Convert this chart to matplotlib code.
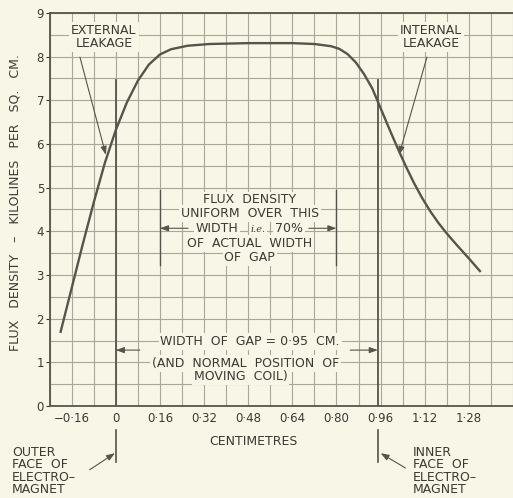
import matplotlib
matplotlib.use("Agg")
import matplotlib.pyplot as plt

# Flux density across the air gap of a moving-coil loudspeaker magnet
position_cm = [-0.20, -0.16, -0.12, -0.08, -0.04, 0.00, 0.04, 0.08, 0.12, 0.16,
               0.20, 0.26, 0.34, 0.48, 0.64, 0.72, 0.78, 0.81, 0.84, 0.87,
               0.90, 0.93, 0.96, 0.99, 1.02, 1.05, 1.08, 1.11, 1.14, 1.17,
               1.20, 1.24, 1.28, 1.32]
flux_kilolines = [1.70, 2.70, 3.70, 4.66, 5.56, 6.32, 6.95, 7.45, 7.82, 8.05,
                  8.17, 8.25, 8.29, 8.31, 8.31, 8.29, 8.24, 8.18, 8.06, 7.87,
                  7.60, 7.27, 6.82, 6.37, 5.93, 5.51, 5.12, 4.77, 4.46, 4.19,
                  3.95, 3.66, 3.38, 3.09]

x_ticks = [-0.16, 0.0, 0.16, 0.32, 0.48, 0.64, 0.80, 0.96, 1.12, 1.28]
x_tick_labels = ["\u22120\u00b716", "0", "0\u00b716", "0\u00b732", "0\u00b748",
                 "0\u00b764", "0\u00b780", "0\u00b796", "1\u00b712", "1\u00b728"]
y_ticks = [0, 1, 2, 3, 4, 5, 6, 7, 8, 9]

gap_width = 0.95            # outer face at 0, inner face at 0.95 cm
uniform_span = (0.16, 0.80)  # region of uniform flux density

BG = "#f8f6e7"
INK = "#3a3a33"
CURVE = "#55554b"
GRID = "#a8a89a"
FS = 9

plt.rcParams["font.family"] = ["DejaVu Sans"]

fig = plt.figure(figsize=(5.13, 4.98), dpi=100, facecolor=BG)
ax = fig.add_axes([49.6 / 513, 1 - 406 / 498, 1 - 49.6 / 513, (406 - 13) / 498])
ax.set_facecolor(BG)

ax.set_xlim(-0.24, 1.435)
ax.set_ylim(0, 9)

# graph-paper grid (keep minor lines even where they meet major ticks)
ax.xaxis.remove_overlapping_locs = False
ax.yaxis.remove_overlapping_locs = False
ax.set_xticks([-0.24 + 0.08 * i for i in range(22)], minor=True)
ax.set_yticks([0.5 * i for i in range(19)], minor=True)
ax.grid(which="minor", color=GRID, linewidth=0.8, zorder=0)
ax.tick_params(which="minor", length=0)

ax.set_xticks(x_ticks)
ax.set_xticklabels(x_tick_labels, fontsize=FS - 0.5, color=INK)
ax.set_yticks(y_ticks)
ax.set_yticklabels([str(v) for v in y_ticks], fontsize=FS - 0.5, color=INK)
ax.tick_params(axis="x", length=0, pad=4)
ax.tick_params(axis="y", length=3, width=0.8, color=INK, pad=1)

for side in ("left", "bottom", "top"):
    ax.spines[side].set_color(CURVE)
    ax.spines[side].set_linewidth(1.3)
ax.spines["right"].set_visible(False)

# flux curve
ax.plot(position_cm, flux_kilolines, color=CURVE, linewidth=1.7, zorder=4,
        solid_joinstyle="round")

# faces of the electromagnet
for xf in (0.0, gap_width):
    ax.plot([xf, xf], [0, 7.46], color=CURVE, linewidth=1.3, zorder=3)
    ax.plot([xf, xf], [-0.55, -1.28], color=CURVE, linewidth=1.2,
            clip_on=False)

box = dict(boxstyle="square,pad=0.15", facecolor=BG, edgecolor="none")
arrow = dict(arrowstyle="-|>,head_length=0.5,head_width=0.18", color=CURVE,
             linewidth=0.8, shrinkA=0, shrinkB=0)

# leakage labels
ax.text(-0.043, 8.45, "EXTERNAL\nLEAKAGE", ha="center", va="center",
        fontsize=FS, color=INK, linespacing=1.0, bbox=box, zorder=5)
ax.annotate("", xy=(-0.036, 5.75), xytext=(-0.13, 7.99), arrowprops=arrow,
            zorder=5)
ax.text(1.143, 8.45, "INTERNAL\nLEAKAGE", ha="center", va="center",
        fontsize=FS, color=INK, linespacing=1.0, bbox=box, zorder=5)
ax.annotate("", xy=(1.027, 5.75), xytext=(1.128, 7.99), arrowprops=arrow,
            zorder=5)

# uniform-flux region
for xv in uniform_span:
    ax.plot([xv, xv], [3.23, 4.95], color=CURVE, linewidth=1.0, zorder=3)
cx = 0.486
for txt, yy in (("FLUX  DENSITY", 4.72), ("UNIFORM  OVER  THIS", 4.41),
                ("OF  ACTUAL  WIDTH", 3.72), ("OF  GAP", 3.40)):
    ax.text(cx, yy, txt, ha="center", va="center", fontsize=FS, color=INK,
            bbox=box, zorder=5)
ax.text(0.445, 4.07, "WIDTH", ha="right", va="center", fontsize=FS,
        color=INK, bbox=box, zorder=5)
ax.text(0.515, 4.05, "i.e.", ha="center", va="center", fontsize=FS - 2,
        color=INK, family="DejaVu Serif", style="italic", bbox=box, zorder=6)
ax.text(0.578, 4.07, "70%", ha="left", va="center", fontsize=FS,
        color=INK, bbox=box, zorder=5)
ax.annotate("", xy=(uniform_span[0], 4.07), xytext=(0.262, 4.07),
            arrowprops=arrow, zorder=5)
ax.annotate("", xy=(uniform_span[1], 4.07), xytext=(0.70, 4.07),
            arrowprops=arrow, zorder=5)

# gap width note
ax.text(0.487, 1.47, "WIDTH  OF  GAP = 0\u00b795  CM.", ha="center",
        va="center", fontsize=FS, color=INK, bbox=box, zorder=5)
ax.text(0.472, 0.98, "(AND  NORMAL  POSITION  OF", ha="center",
        va="center", fontsize=FS, color=INK, bbox=box, zorder=5)
ax.text(0.452, 0.67, "MOVING  COIL)", ha="center", va="center",
        fontsize=FS, color=INK, bbox=box, zorder=5)
ax.annotate("", xy=(0.0, 1.28), xytext=(0.087, 1.28), arrowprops=arrow,
            zorder=5)
ax.annotate("", xy=(gap_width, 1.28), xytext=(0.85, 1.28), arrowprops=arrow,
            zorder=5)

# axis titles
fig.text(253 / 513, 1 - 441.7 / 498, "CENTIMETRES", ha="center", va="center",
         fontsize=FS, color=INK)
fig.text(15 / 513, 1 - 203 / 498,
         "FLUX   DENSITY   \u2013   KILOLINES   PER   SQ.   CM.",
         rotation=90, ha="center", va="center", fontsize=FS, color=INK)

# face labels under the axis
fig.text(12 / 513, 1 - 471 / 498, "OUTER\nFACE  OF\nELECTRO\u2013\nMAGNET",
         ha="left", va="center", fontsize=FS, color=INK, linespacing=0.92)
fig.text(413 / 513, 1 - 471 / 498, "INNER\nFACE  OF\nELECTRO\u2013\nMAGNET",
         ha="left", va="center", fontsize=FS, color=INK, linespacing=0.92)
ax.annotate("", xy=(-0.003, -1.08), xytext=(-0.095, -1.46),
            arrowprops=arrow, annotation_clip=False)
ax.annotate("", xy=(gap_width + 0.01, -1.08), xytext=(1.05, -1.42),
            arrowprops=arrow, annotation_clip=False)

fig.savefig("out.png", dpi=100, facecolor=BG)
